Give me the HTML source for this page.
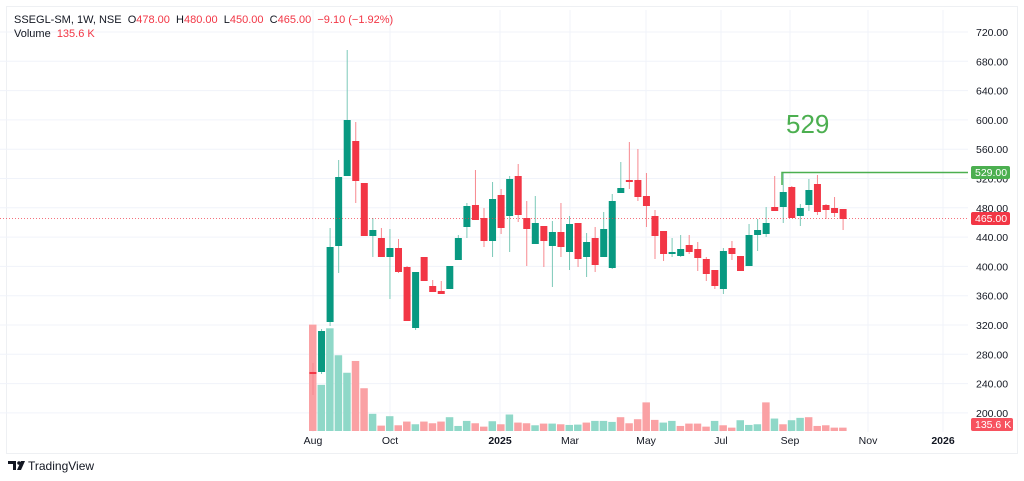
<!DOCTYPE html>
<html><head><meta charset="utf-8"><style>
html,body{margin:0;padding:0;background:#fff;width:1024px;height:481px;overflow:hidden}
svg{display:block;font-family:"Liberation Sans",sans-serif}
</style></head><body>
<svg id="c" width="1024" height="481" viewBox="0 0 1024 481" xmlns="http://www.w3.org/2000/svg">
<rect x="0" y="0" width="1024" height="481" fill="#fff"/>
<rect x="6.5" y="6.5" width="1011" height="447" fill="none" stroke="#eef0f3"/>
<g id="grid" stroke="#f0f3fa" stroke-width="1"></g>
<g id="vol"></g>
<g id="cnd"></g>
<line x1="0" y1="218.5" x2="968" y2="218.5" stroke="#f23645" stroke-width="1" stroke-dasharray="1,2" opacity="0.7"/>
<polyline points="782,185 782,172.5 968,172.5" fill="none" stroke="#4caf50" stroke-width="1.5"/>
<text x="786" y="133" font-size="26" fill="#4caf50">529</text>
<g id="axis" font-size="10.5" fill="#131722"></g>
<rect x="971" y="166" width="39" height="13" rx="2" fill="#4caf50"/>
<text x="975" y="176" font-size="10.5" fill="#fff">529.00</text>
<rect x="971" y="212" width="39" height="13" rx="2" fill="#f23645"/>
<text x="975" y="222" font-size="10.5" fill="#fff">465.00</text>
<rect x="971" y="418" width="42" height="13" rx="2" fill="#f7525f"/>
<text x="975" y="428" font-size="10.5" fill="#fff">135.6 K</text>
<g font-size="11" fill="#131722">
<text x="14" y="23">SSEGL-SM, 1W, NSE&#160;&#160;O<tspan fill="#f23645">478.00</tspan>&#160;&#160;H<tspan fill="#f23645">480.00</tspan>&#160;&#160;L<tspan fill="#f23645">450.00</tspan>&#160;&#160;C<tspan fill="#f23645">465.00</tspan>&#160;&#160;<tspan fill="#f23645">−9.10 (−1.92%)</tspan></text>
<text x="14" y="37">Volume&#160;&#160;<tspan fill="#f23645">135.6 K</tspan></text>
</g>
<g id="tl" font-size="10.5" fill="#131722" text-anchor="middle"></g>
<g transform="translate(8,461)">
<path d="M0 0h8v9h-3v-6h-5z" fill="#131722"/><circle cx="11" cy="2" r="1.8" fill="#131722"/><path d="M13 0h4l-4 9h-4z" fill="#131722"/>
<text x="20" y="9" font-size="12" fill="#131722">TradingView</text>
</g>
</svg>
<script>
var NS="http://www.w3.org/2000/svg";
function el(p,t,a,txt){var e=document.createElementNS(NS,t);for(var k in a)e.setAttribute(k,a[k]);if(txt)e.textContent=txt;document.getElementById(p).appendChild(e);return e;}
for(var i=0;i<=13;i++){var p=720-i*40;var y=32+i*29.3;
 el("grid","line",{x1:0,x2:968,y1:y,y2:y});
 el("axis","text",{x:976,y:y+4},p.toFixed(2));}
var mon=[[313,"Aug"],[390,"Oct"],[500,"2025"],[570,"Mar"],[646,"May"],[721,"Jul"],[790,"Sep"],[868,"Nov"],[943,"2026"]];
mon.forEach(function(m){el("grid","line",{x1:m[0],x2:m[0],y1:10,y2:432});
 var t=el("tl","text",{x:m[0],y:444},m[1]); if(m[1]=="2025"||m[1]=="2026")t.setAttribute("font-weight","bold");});
var C=[
["r",372,374,363,395],["g",331,372,329,374],["g",247,322,228,326],["g",177,246,160,273],["g",120,176,50,176],
["r",141,181,122,203],["r",183,236,183,236],["g",230,236,218,257],["r",238,257,228,257],["g",248,257,229,299],
["r",248,272,239,273],["r",267,321,266,321],["g",272,328,272,330],["r",257,281,257,281],["r",286,292,280,292],
["r",291,294,281,294],["g",266,289,266,289],["g",238,260,235,260],["g",206,227,203,238],["r",205,220,170,220],
["r",218,241,208,247],["g",199,241,182,257],["r",195,228,189,234],["g",179,216,176,252],["r",176,215,164,222],
["r",218,229,201,266],["g",223,244,196,244],["r",226,241,226,267],["g",232,246,221,287],["r",232,247,203,257],
["g",224,252,216,270],["r",223,259,223,267],["g",242,257,233,277],["r",238,265,227,272],["g",229,257,212,257],
["g",201,268,194,269],["g",188,193,162,193],["r",180,182,142,189],["r",180,197,149,201],["r",196,206,173,227],
["r",216,236,210,259],["r",231,254,231,261],["g",252,254,238,257],["g",249,256,235,257],["r",245,252,235,254],
["r",249,258,242,271],["r",259,274,257,281],["r",270,286,270,289],["g",251,289,248,294],["r",248,254,241,260],
["r",256,271,256,271],["g",235,266,224,266],["g",230,235,219,251],["g",223,234,207,237],["r",207,211,176,211],
["g",192,207,172,223],["r",187,218,186,218],["g",208,216,204,226],["g",190,205,179,211],["r",184,212,175,215],
["r",205,210,204,219],["r",208,213,197,217],["r",209,219,209,230]];
var V=[["r",16],["g",195],["g",27],["g",107],["g",159],["r",124],["r",205],["g",281],["r",316],["g",288],["r",315],["r",304],["g",312],["r",304],["r",309],["r",304],["g",291],["g",317],["g",302],["r",309],["r",319],["g",303],["r",312],["g",283],["r",307],["r",309],["g",315],["r",310],["g",310],["r",312],["g",314],["g",313],["r",307],["g",302],["g",302],["g",305],["r",291],["r",309],["r",297],["r",247],["r",299],["g",307],["g",302],["r",317],["r",310],["r",310],["r",319],["g",302],["r",315],["r",322],["g",300],["g",314],["g",312],["r",247],["g",295],["r",312],["g",300],["g",293],["r",291],["r",317],["r",315],["r",322],["r",322]];
var N=C.length;
for(var i=0;i<V.length;i++){var x=309+i*8.55;var h=(332-V[i][1])/2.97;
 el("vol","rect",{x:x,y:431-h,width:7.5,height:h,fill:V[i][0]=="g"?"#8fd8c8":"#faa1a4"});}
for(var i=0;i<N;i++){var c=C[i],x=313+i*8.55,col=c[0]=="g"?"#089981":"#f23645",wc=c[0]=="g"?"#7cc9b8":"#f7888f";
 el("cnd","line",{x1:x,x2:x,y1:c[3],y2:c[4],stroke:wc,"stroke-width":1});
 el("cnd","rect",{x:x-3.5,y:c[1],width:7,height:Math.max(1.5,c[2]-c[1]),fill:col});}
</script>
</body></html>
